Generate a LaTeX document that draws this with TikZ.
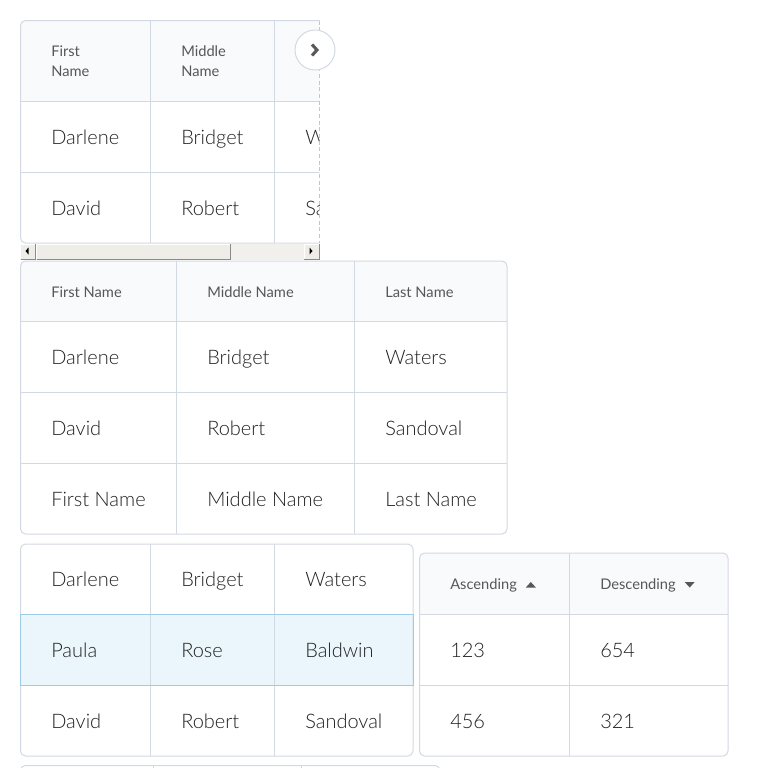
\documentclass[tikz,border=0pt]{standalone}
\usepackage{fontspec}
\setmainfont{Lato}
\newfontfamily\latolight{Lato Light}
\definecolor{gridc}{HTML}{D3D9E3}
\definecolor{hdrfill}{HTML}{F9FAFB}
\definecolor{hdrtext}{HTML}{54585B}
\definecolor{bodytext}{HTML}{202122}
\definecolor{selfill}{HTML}{EAF6FC}
\definecolor{selline}{HTML}{9DCBE8}
\definecolor{btnface}{HTML}{EFEDE8}
\definecolor{trackc}{HTML}{F1F0EC}
\definecolor{btndark}{HTML}{8A8A8A}
\definecolor{chev}{HTML}{565A5C}
\begin{document}
\begin{tikzpicture}[x=0.75pt,y=-0.75pt,
  gridline/.style={draw=gridc, line width=0.75pt},
  hdr/.style={anchor=base west, inner sep=0pt, font=\fontsize{11}{15}\selectfont, text=hdrtext},
  cell/.style={anchor=base west, inner sep=0pt, font=\latolight\fontsize{15}{18}\selectfont, text=bodytext},
  tri/.style={fill=hdrtext, draw=none},
  arrowtri/.style={fill=black, draw=none}]
\useasboundingbox[fill=white] (0,0) rectangle (768,768);

% ---------------- Table 1 (scrolling) ----------------
\begin{scope}
  \clip (0,0) rectangle (319.5,243.5);
  \fill[white, rounded corners=3.75pt] (20.5,20.5) rectangle (360,243);
  \begin{scope}
    \clip[rounded corners=3.75pt] (20.5,20.5) rectangle (360,243);
    \fill[hdrfill] (20,20) rectangle (360,101);
  \end{scope}
  \draw[gridline, rounded corners=3.75pt] (20.5,20.5) rectangle (360,243);
  \draw[gridline] (20.5,101.5) -- (360,101.5);
  \draw[gridline] (20.5,172.5) -- (360,172.5);
  \draw[gridline] (150.5,20.5) -- (150.5,243);
  \draw[gridline] (274.5,20.5) -- (274.5,243);
  \node[hdr] (t1h1a) at (51,56.5) {First};
  \node[hdr] (t1h1b) at (51,76) {Name};
  \node[hdr] (t1h2a) at (181,56.5) {Middle};
  \node[hdr] (t1h2b) at (181,76) {Name};
  \node[cell] (t1r1c1) at (51,144) {Darlene};
  \node[cell] (t1r1c2) at (181,144) {Bridget};
  \node[cell] (t1r1c3) at (305,144) {Waters};
  \node[cell] (t1r2c1) at (51,215) {David};
  \node[cell] (t1r2c2) at (181,215) {Robert};
  \node[cell] (t1r2c3) at (305,215) {Sandoval};
\end{scope}
\draw[gridc!80!gray, line width=0.75pt, dash pattern=on 3pt off 2pt] (319.5,20.5) -- (319.5,243);
% next button
\node[circle, draw=gridc, fill=white, line width=0.75pt, minimum size=30pt, inner sep=0pt] (nextbtn) at (315,50) {};
\draw[chev, line width=2.3pt] (312,44.5) -- (317,50) -- (312,55.5);

% scrollbar
\fill[trackc] (20,243.5) rectangle (319.5,259.5);
% left button
\fill[btnface] (20,243.5) rectangle (36,259.5);
\draw[white, line width=0.75pt] (20.5,259) -- (20.5,244) -- (35.5,244);
\draw[btndark, line width=0.75pt] (20.5,259) -- (35.5,259) -- (35.5,244);
\fill[arrowtri] (28.5,247.5) -- (25.5,251) -- (28.5,254.5) -- cycle;
% thumb
\fill[btnface] (36,243.5) rectangle (230.5,259.5);
\draw[white, line width=0.75pt] (36.5,259) -- (36.5,244) -- (230,244);
\draw[btndark, line width=0.75pt] (36.5,259) -- (230,259) -- (230,244);
% right button
\fill[btnface] (303.5,243.5) rectangle (319.5,259.5);
\draw[white, line width=0.75pt] (304,259) -- (304,244) -- (319,244);
\draw[btndark, line width=0.75pt] (304,259) -- (319,259) -- (319,244);
\fill[arrowtri] (309.5,247.5) -- (312.5,251) -- (309.5,254.5) -- cycle;

% ---------------- Table 2 ----------------
\fill[white, rounded corners=3.75pt] (20.5,261) rectangle (507,534);
\begin{scope}
  \clip[rounded corners=3.75pt] (20.5,261) rectangle (507,534);
  \fill[hdrfill] (20,261) rectangle (507,321.5);
\end{scope}
\draw[gridline, rounded corners=3.75pt] (20.5,261) rectangle (507,534);
\draw[gridline] (20.5,321.5) -- (507,321.5);
\draw[gridline] (20.5,392.5) -- (507,392.5);
\draw[gridline] (20.5,463.5) -- (507,463.5);
\draw[gridline] (176.5,261) -- (176.5,534);
\draw[gridline] (354.5,261) -- (354.5,534);
\node[hdr] (t2h1) at (51,297) {First Name};
\node[hdr] (t2h2) at (207,297) {Middle Name};
\node[hdr] (t2h3) at (385,297) {Last Name};
\node[cell] (t2r1c1) at (51,364) {Darlene};
\node[cell] (t2r1c2) at (207,364) {Bridget};
\node[cell] (t2r1c3) at (385,364) {Waters};
\node[cell] (t2r2c1) at (51,435) {David};
\node[cell] (t2r2c2) at (207,435) {Robert};
\node[cell] (t2r2c3) at (385,435) {Sandoval};
\node[cell] (t2r3c1) at (51,506) {First Name};
\node[cell] (t2r3c2) at (207,506) {Middle Name};
\node[cell] (t2r3c3) at (385,506) {Last Name};

% ---------------- Table 3 (selected row) ----------------
\fill[white, rounded corners=3.75pt] (20.5,544) rectangle (413,756);
\fill[selfill] (20.5,614.5) rectangle (413,685.5);
\draw[gridline, rounded corners=3.75pt] (20.5,544) rectangle (413,756);
\draw[gridline] (150.5,544) -- (150.5,756);
\draw[gridline] (274.5,544) -- (274.5,756);
\draw[selline, line width=0.75pt] (20.5,614.5) rectangle (413,685.5);
\node[cell] (t3r1c1) at (51,586.5) {Darlene};
\node[cell] (t3r1c2) at (181,586.5) {Bridget};
\node[cell] (t3r1c3) at (305,586.5) {Waters};
\node[cell] (t3r2c1) at (51,657) {Paula};
\node[cell] (t3r2c2) at (181,657) {Rose};
\node[cell] (t3r2c3) at (305,657) {Baldwin};
\node[cell] (t3r3c1) at (51,728) {David};
\node[cell] (t3r3c2) at (181,728) {Robert};
\node[cell] (t3r3c3) at (305,728) {Sandoval};

% ---------------- Table 4 (sorting) ----------------
\fill[white, rounded corners=3.75pt] (419.5,553) rectangle (728,756);
\begin{scope}
  \clip[rounded corners=3.75pt] (419.5,553) rectangle (728,756);
  \fill[hdrfill] (419,553) rectangle (728,614.5);
\end{scope}
\draw[gridline, rounded corners=3.75pt] (419.5,553) rectangle (728,756);
\draw[gridline] (419.5,614.5) -- (728,614.5);
\draw[gridline] (419.5,685.5) -- (728,685.5);
\draw[gridline] (569.5,553) -- (569.5,756);
\node[hdr] (t4h1) at (450,589.5) {Ascending};
\node[hdr] (t4h2) at (600,589.5) {Descending};
\fill[tri] ([xshift=6.5pt]t4h1.base east) ++(0,-2) -- ++(10,0) -- ++(-5,-5.5) -- cycle;
\fill[tri] ([xshift=6.5pt]t4h2.base east) ++(0,-7.5) -- ++(10,0) -- ++(-5,5.5) -- cycle;
\node[cell] (t4r1c1) at (450,657) {123};
\node[cell] (t4r1c2) at (600,657) {654};
\node[cell] (t4r2c1) at (450,728) {456};
\node[cell] (t4r2c2) at (600,728) {321};

% ---------------- Table 5 (cut off) ----------------
\begin{scope}
  \clip (0,0) rectangle (768,768);
  \draw[gridline, rounded corners=3.75pt] (20.5,765.5) rectangle (440,820);
  \draw[gridline] (153.5,765.5) -- (153.5,820);
  \draw[gridline] (301.5,765.5) -- (301.5,820);
\end{scope}
\end{tikzpicture}
\end{document}
